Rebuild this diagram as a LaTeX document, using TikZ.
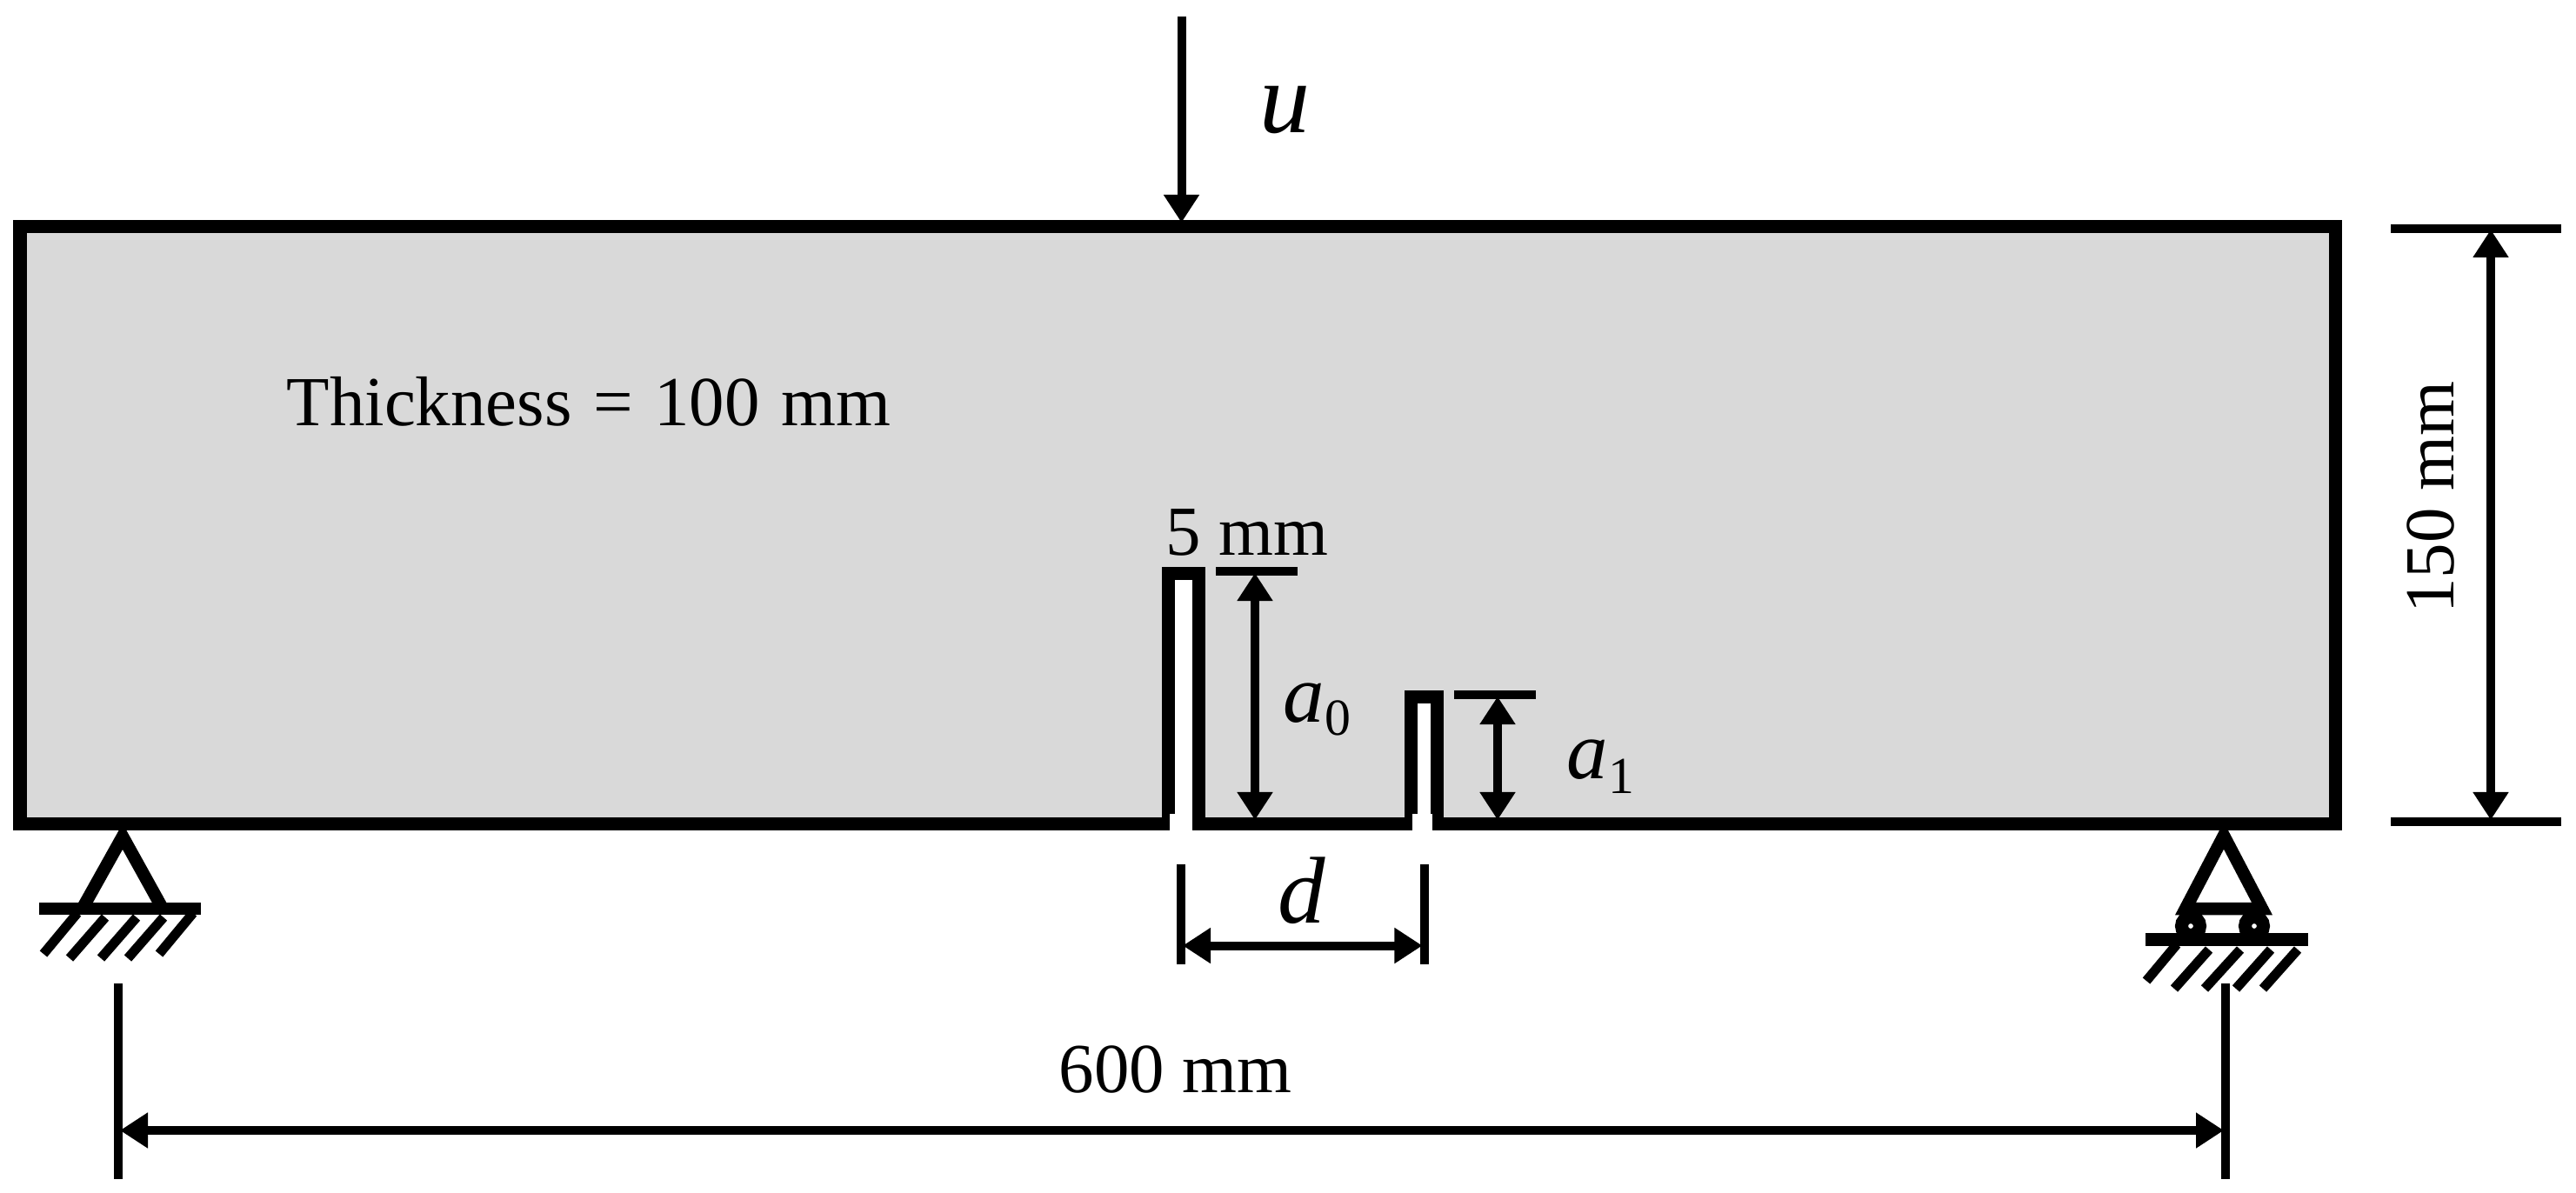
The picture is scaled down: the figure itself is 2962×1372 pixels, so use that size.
\documentclass[tikz,border=0pt]{standalone}
\usepackage{fontspec}
\setmainfont{Liberation Serif}
\usetikzlibrary{arrows.meta}
\definecolor{beamgray}{RGB}{217,217,217}
\tikzset{
  dimtip/.tip={Triangle[length=3.2mm,width=3.9mm]},
  beamline/.style={line width=1.5mm, fill=beamgray},
  barline/.style={line width=1.45mm},
  thinline/.style={line width=1mm},
  hatchline/.style={line width=1.1mm},
  dimline/.style={line width=1mm, dimtip-dimtip},
  loadline/.style={line width=1mm, -dimtip},
  txt/.style={inner sep=0pt, anchor=base west, font=\fontsize{23}{28}\selectfont},
  lettertxt/.style={inner sep=0pt, anchor=base west, font=\fontsize{#1}{36}\selectfont},
}
\begin{document}
\begin{tikzpicture}[x=0.01cm, y=-0.01cm]
  \useasboundingbox (0, 0) rectangle (2962, 1372);
  % beam
  \draw[beamline] (23, 947.5) -- (23, 260) -- (2685, 260) -- (2685, 947.5) -- (1652, 947.5) -- (1652, 801)
    -- (1622.5, 801) -- (1622.5, 947.5) -- (1378.5, 947.5) -- (1378.5, 659.5) -- (1343, 659.5) -- (1343, 947.5) -- cycle;
  \fill[white] (1345, 936) rectangle (1368, 956);
  \fill[white] (1624, 936) rectangle (1646.5, 956);
  % left support
  \foreach \xa/\ya/\xb/\yb in {50/1097/89/1050, 80/1102/121/1055, 116/1102/157/1055, 147/1102/188/1055, 183/1097/222/1050}
    \draw[hatchline] (\xa, \ya) -- (\xb, \yb);
  \draw[barline] (94.6, 1045) -- (141, 962) -- (187, 1045);
  \draw[barline] (45, 1045) -- (231, 1045);
  % right support
  \foreach \xa/\ya/\xb/\yb in {2468/1128/2503/1086, 2500/1137/2540/1092, 2535/1137/2576/1092, 2571/1137/2611/1092, 2602/1137/2642/1092}
    \draw[hatchline] (\xa, \ya) -- (\xb, \yb);
  \draw[barline] (2513, 1045) -- (2557, 961) -- (2601, 1045) -- cycle;
  \draw[fill=white, line width=1.5mm] (2519, 1065) circle (1.05mm);
  \draw[fill=white, line width=1.5mm] (2592, 1065) circle (1.05mm);
  \draw[barline] (2467, 1080.5) -- (2654, 1080.5);
  % load
  \coordinate (loadtop) at (1358.5, 19);
  \coordinate (loadtip) at (1358.5, 256);
  \draw[loadline] (loadtop) -- (loadtip);
  \node[lettertxt=33] (loadlabel) at (1448, 152) {\textit{u}};
  % height
  \coordinate (heighta) at (2749, 262.5);
  \coordinate (heightb) at (2945, 262.5);
  \coordinate (heightc) at (2749, 945);
  \coordinate (heightd) at (2945, 945);
  \coordinate (heighttop) at (2864, 264);
  \coordinate (heightbot) at (2864, 943);
  \draw[thinline] (heighta) -- (heightb);
  \draw[thinline] (heightc) -- (heightd);
  \draw[dimline] (heighttop) -- (heightbot);
  \node[txt, rotate=90, anchor=base] (heightlabel) at (2821, 572) {150 mm};
  % notches
  \coordinate (notcha) at (1398, 657);
  \coordinate (notchb) at (1492, 657);
  \coordinate (notchc) at (1672, 799);
  \coordinate (notchd) at (1766, 799);
  \draw[thinline] (notcha) -- (notchb);
  \draw[thinline] (notchc) -- (notchd);
  \coordinate (azerotop) at (1443, 659);
  \coordinate (azerobot) at (1443, 943);
  \coordinate (aonetop) at (1722, 801);
  \coordinate (aonebot) at (1722, 943);
  \draw[dimline] (azerotop) -- (azerobot);
  \draw[dimline] (aonetop) -- (aonebot);
  \node[lettertxt=27] (azerolabel) at (1475, 830) {\textit{a}\raisebox{-1.5mm}{\fontsize{17}{20}\selectfont 0}};
  \node[lettertxt=27] (aonelabel) at (1801, 895) {\textit{a}\raisebox{-1.7mm}{\fontsize{17}{20}\selectfont 1}};
  \node[txt] (widthlabel) at (1340, 638) {5 mm};
  \node[txt] (thicklabel) at (329, 489) {\spaceskip=7pt Thickness = 100 mm};
  % spacing d
  \coordinate (da) at (1358, 994);
  \coordinate (db) at (1358, 1109);
  \coordinate (dc) at (1637.5, 994);
  \coordinate (dd) at (1637.5, 1109);
  \coordinate (dleft) at (1360, 1087.5);
  \coordinate (dright) at (1635.5, 1087.5);
  \draw[thinline] (da) -- (db);
  \draw[thinline] (dc) -- (dd);
  \draw[dimline] (dleft) -- (dright);
  \node[lettertxt=31] (dlabel) at (1469, 1061) {\textit{d}};
  % span
  \coordinate (spana) at (136, 1131);
  \coordinate (spanb) at (136, 1356);
  \coordinate (spanc) at (2559, 1131);
  \coordinate (spand) at (2559, 1356);
  \coordinate (spanleft) at (138, 1300);
  \coordinate (spanright) at (2557, 1300);
  \draw[thinline] (spana) -- (spanb);
  \draw[thinline] (spanc) -- (spand);
  \draw[dimline] (spanleft) -- (spanright);
  \node[txt] (spanlabel) at (1217, 1256) {600 mm};
\end{tikzpicture}
\end{document}
